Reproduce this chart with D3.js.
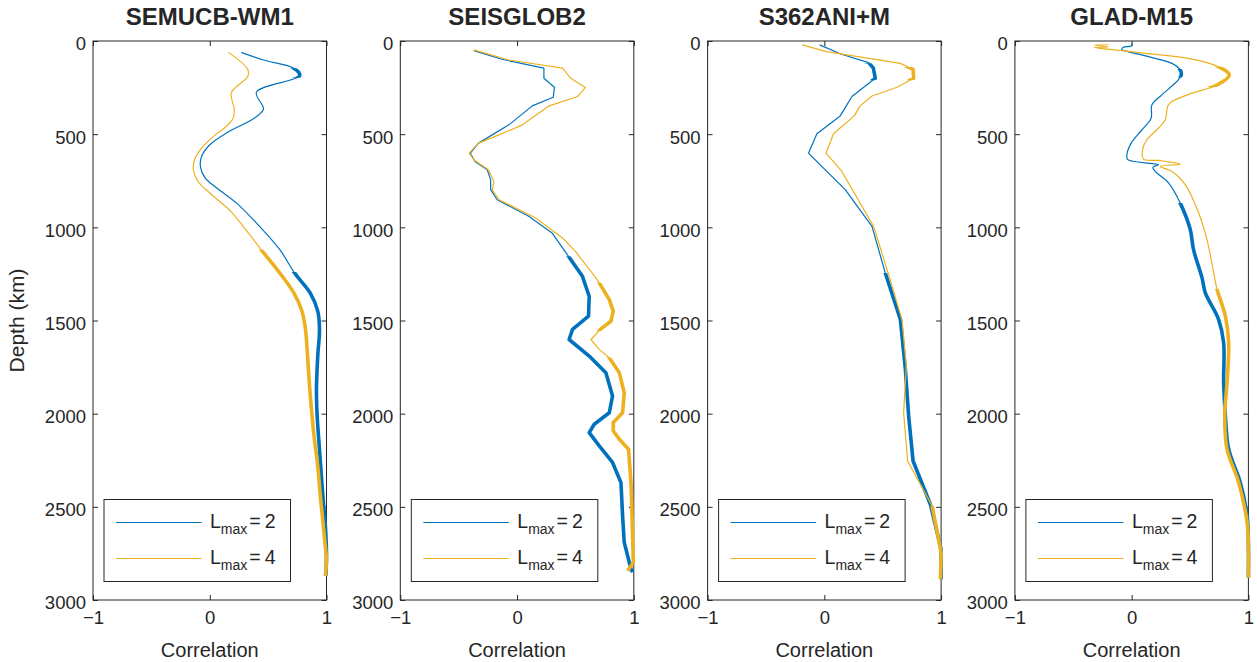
<!DOCTYPE html>
<html>
<head>
<meta charset="utf-8">
<script src="https://cdn.jsdelivr.net/npm/d3@7"></script>
<style>
  body { margin: 0; background: #fff; }
  svg { display: block; }
  text { font-family: "Liberation Sans", Arial, Helvetica, sans-serif; fill: #262626; }
</style>
</head>
<body>
<svg id="chart" width="1257" height="662"></svg>
<script>
// ---- data ----------------------------------------------------------------
const models = ["SEMUCB-WM1", "SEISGLOB2", "S362ANI+M", "GLAD-M15"];
const depthTicks = [0, 500, 1000, 1500, 2000, 2500, 3000];
const corrTicks = [-1, 0, 1];
const legendDegrees = ["2", "4"];

// depth profiles of correlation: [depth (km), correlation]
const semucbL2 = [[61,0.27],[102,0.46],[146,0.72],[186,0.77],[275,0.40],[366,0.46],[414,0.38],[491,0.15],[557,0.0],[620,-0.07],[673,-0.08],[735,-0.04],[789,0.06],[870,0.23],[977,0.40],[1120,0.60],[1248,0.73],[1352,0.86],[1450,0.925],[1548,0.94],[1691,0.925],[1870,0.914],[2013,0.92],[2191,0.94],[2450,0.97],[2600,0.99],[2750,1.0],[2870,0.995]];
const semucbL4 = [[61,0.16],[152,0.325],[191,0.325],[277,0.185],[366,0.21],[414,0.20],[459,0.14],[513,0.03],[575,-0.07],[637,-0.13],[691,-0.14],[754,-0.10],[816,0.0],[914,0.18],[1030,0.33],[1120,0.44],[1245,0.60],[1352,0.72],[1450,0.79],[1548,0.82],[1655,0.834],[1870,0.857],[2102,0.89],[2280,0.925],[2450,0.948],[2709,0.99],[2790,1.0],[2870,0.99]];
const seisglobL2 = [[52,-0.37],[98,-0.13],[146,0.23],[200,0.23],[248,0.32],[302,0.31],[348,0.13],[450,-0.07],[548,-0.33],[602,-0.40],[647,-0.36],[691,-0.255],[745,-0.226],[798,-0.226],[852,-0.17],[941,0.10],[1030,0.30],[1120,0.40],[1155,0.44],[1263,0.56],[1370,0.618],[1477,0.612],[1548,0.475],[1602,0.446],[1691,0.618],[1780,0.761],[1905,0.818],[1995,0.79],[2057,0.661],[2102,0.618],[2173,0.704],[2262,0.818],[2370,0.89],[2548,0.904],[2691,0.918],[2834,0.976],[2850,0.99]];
const seisglobL4 = [[48,-0.37],[102,-0.07],[146,0.39],[200,0.46],[250,0.584],[298,0.518],[348,0.275],[450,0.046],[504,-0.155],[548,-0.33],[602,-0.41],[637,-0.37],[691,-0.246],[754,-0.197],[798,-0.212],[852,-0.155],[950,0.16],[1057,0.39],[1129,0.50],[1271,0.675],[1298,0.704],[1388,0.79],[1450,0.824],[1504,0.804],[1545,0.718],[1602,0.633],[1655,0.704],[1700,0.79],[1780,0.876],[1888,0.918],[1995,0.904],[2048,0.824],[2093,0.824],[2137,0.876],[2191,0.955],[2370,0.976],[2548,0.985],[2798,0.996],[2843,0.947]];
const s362L2 = [[21,-0.04],[70,0.14],[116,0.38],[146,0.42],[200,0.436],[298,0.236],[402,0.136],[498,-0.064],[602,-0.136],[700,0.021],[798,0.179],[995,0.408],[1245,0.522],[1495,0.651],[1762,0.694],[2013,0.722],[2254,0.76],[2486,0.908],[2727,1.0],[2888,1.0]];
const s362L4 = [[21,-0.19],[57,0.02],[120,0.65],[152,0.76],[200,0.765],[248,0.622],[295,0.408],[348,0.307],[402,0.256],[498,0.078],[602,0.015],[700,0.15],[995,0.422],[1271,0.559],[1495,0.665],[1745,0.702],[1995,0.679],[2254,0.713],[2495,0.923],[2745,1.0],[2888,0.994]];
const gladL2 = [[12,0.0],[26,0.0],[34,-0.07],[45,-0.085],[57,-0.03],[84,0.145],[120,0.345],[155,0.416],[182,0.425],[209,0.40],[289,0.259],[343,0.173],[414,0.167],[477,0.088],[548,-0.004],[611,-0.041],[637,-0.033],[664,0.23],[677,0.182],[700,0.202],[762,0.316],[870,0.416],[1012,0.502],[1120,0.53],[1271,0.603],[1352,0.631],[1495,0.745],[1620,0.788],[1834,0.788],[2013,0.803],[2191,0.831],[2370,0.931],[2548,0.989],[2691,1.0],[2879,1.0]];
const gladL4 = [[20,-0.2],[22,-0.32],[32,-0.2],[35,-0.32],[52,-0.084],[66,0.116],[93,0.488],[138,0.745],[182,0.837],[236,0.731],[280,0.517],[325,0.345],[348,0.31],[423,0.288],[468,0.23],[530,0.13],[584,0.093],[634,0.101],[641,0.23],[661,0.416],[673,0.245],[700,0.345],[771,0.459],[923,0.574],[1066,0.645],[1271,0.711],[1330,0.73],[1477,0.803],[1620,0.831],[1834,0.817],[2013,0.797],[2191,0.817],[2370,0.917],[2584,0.989],[2727,1.0],[2879,1.0]];

// depth intervals where the correlation is significant (drawn thick)
const semucbL2Sig = [[146,186],[1240,2870]];
const semucbL4Sig = [[1120,2870]];
const seisglobL2Sig = [[1155,2850]];
const seisglobL4Sig = [[1298,1545],[1700,2843]];
const s362L2Sig = [[120,200],[1245,2888]];
const s362L4Sig = [[140,200],[2495,2888]];
const gladL2Sig = [[150,185],[870,2879]];
const gladL4Sig = [[138,236],[1330,2879]];

const panels = [
  { title: models[0], series: [semucbL2, semucbL4], sig: [semucbL2Sig, semucbL4Sig], smooth: true },
  { title: models[1], series: [seisglobL2, seisglobL4], sig: [seisglobL2Sig, seisglobL4Sig], smooth: false },
  { title: models[2], series: [s362L2, s362L4], sig: [s362L2Sig, s362L4Sig], smooth: false },
  { title: models[3], series: [gladL2, gladL4], sig: [gladL2Sig, gladL4Sig], smooth: true }
];

// ---- layout ----------------------------------------------------------------
const colors = ["#0072BD", "#EDB120"];
const axisColor = "#262626";
const plotTop = 41, plotBottom = 600, plotW = 233.5, firstLeft = 93, pitch = 307.3;
const fontTick = 18.5;

const svg = d3.select("#chart");
const y = d3.scaleLinear().domain([0, 3000]).range([plotTop, plotBottom]);
const defs = svg.append("defs");

panels.forEach((p, pi) => {
  const left = firstLeft + pi * pitch;
  const x = d3.scaleLinear().domain([-1, 1]).range([left, left + plotW]);
  const g = svg.append("g");

  // title
  g.append("text")
    .attr("x", left + plotW / 2).attr("y", 25)
    .attr("text-anchor", "middle")
    .style("font-size", "24px").style("font-weight", "bold")
    .text(p.title);

  // axes with inward ticks
  const yAxisL = d3.axisLeft(y).tickValues(depthTicks).tickFormat(d3.format("d")).tickSize(-5).tickPadding(7);
  const yAxisR = d3.axisRight(y).tickValues(depthTicks).tickSize(-5).tickFormat("");
  const xAxisB = d3.axisBottom(x).tickValues(corrTicks).tickFormat(d3.format("d")).tickSize(-5).tickPadding(11);
  const xAxisT = d3.axisTop(x).tickValues(corrTicks).tickSize(-5).tickFormat("");

  const styleAxis = sel => {
    sel.select(".domain").remove();
    sel.selectAll("line").attr("stroke", axisColor);
    sel.selectAll("text").attr("fill", axisColor).style("font-size", fontTick + "px")
      .style("font-family", '"Liberation Sans", Arial, Helvetica, sans-serif');
  };
  g.append("g").attr("transform", `translate(${left},0)`).call(yAxisL).call(styleAxis)
    .selectAll("text").attr("dy", "0.48em");
  g.append("g").attr("transform", `translate(${left + plotW},0)`).call(yAxisR).call(styleAxis);
  g.append("g").attr("transform", `translate(0,${plotBottom})`).call(xAxisB).call(styleAxis);
  g.append("g").attr("transform", `translate(0,${plotTop})`).call(xAxisT).call(styleAxis);

  g.append("rect")
    .attr("x", left).attr("y", plotTop).attr("width", plotW).attr("height", plotBottom - plotTop)
    .attr("fill", "none").attr("stroke", axisColor).attr("stroke-width", 1);

  // x label
  g.append("text")
    .attr("x", left + plotW / 2).attr("y", 657)
    .attr("text-anchor", "middle").style("font-size", "20px")
    .text("Correlation");

  // profiles
  const line = d3.line()
    .x(d => x(d[1])).y(d => y(d[0]))
    .curve(p.smooth ? d3.curveCatmullRom.alpha(0.5) : d3.curveLinear);

  p.series.forEach((data, si) => {
    g.append("path").datum(data)
      .attr("d", line).attr("fill", "none")
      .attr("stroke", colors[si]).attr("stroke-width", 1.2)
      .attr("stroke-linejoin", "round");

    const clipId = `sig-${pi}-${si}`;
    const cp = defs.append("clipPath").attr("id", clipId);
    p.sig[si].forEach(r => {
      cp.append("rect")
        .attr("x", left - 20).attr("width", plotW + 40)
        .attr("y", y(r[0])).attr("height", y(r[1]) - y(r[0]) + 2);
    });
    g.append("path").datum(data)
      .attr("d", line).attr("fill", "none")
      .attr("stroke", colors[si]).attr("stroke-width", 3.6)
      .attr("stroke-linejoin", "round")
      .attr("clip-path", `url(#${clipId})`);
  });

  // legend
  const lg = g.append("g");
  lg.append("rect")
    .attr("x", left + 11).attr("y", 499.5).attr("width", 186.5).attr("height", 82)
    .attr("fill", "#fff").attr("stroke", axisColor).attr("stroke-width", 1);
  legendDegrees.forEach((deg, i) => {
    const ly = 522.5 + i * 36;
    lg.append("line")
      .attr("x1", left + 23).attr("x2", left + 108.5)
      .attr("y1", ly).attr("y2", ly)
      .attr("stroke", colors[i]).attr("stroke-width", 1.2);
    const t = lg.append("text")
      .attr("x", left + 117).attr("y", ly + 5)
      .style("font-size", "19.5px");
    t.append("tspan").text("L");
    t.append("tspan").attr("dy", 6).style("font-size", "14px").text("max");
    t.append("tspan").attr("dy", -6).attr("dx", 2).text("=");
    t.append("tspan").attr("dx", 4).text(deg);
  });
});

// shared y label
svg.append("text")
  .attr("transform", `translate(24,${(plotTop + plotBottom) / 2}) rotate(-90)`)
  .attr("text-anchor", "middle")
  .style("font-size", "21px")
  .text("Depth (km)");
</script>
</body>
</html>
